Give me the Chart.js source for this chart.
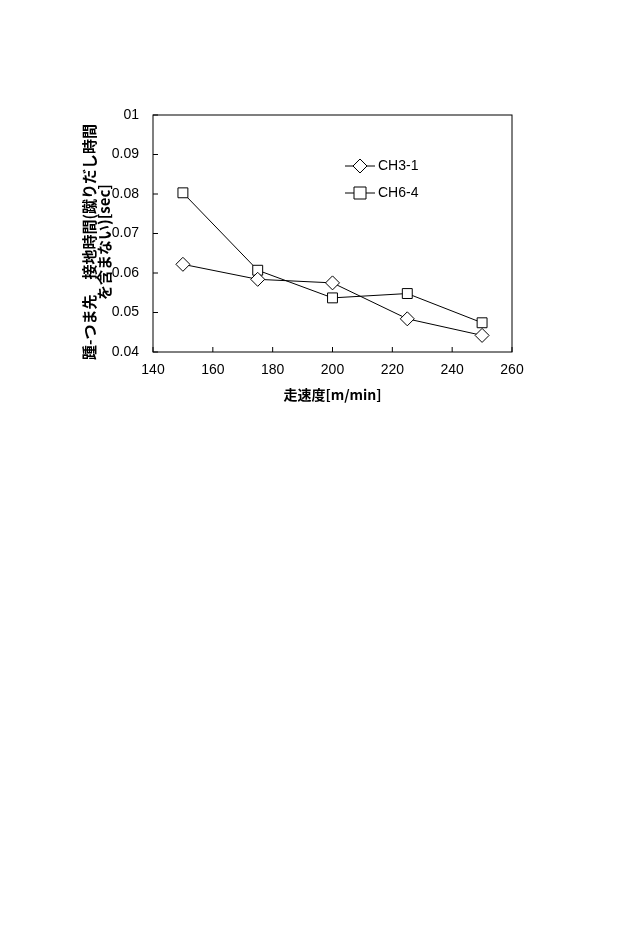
<!DOCTYPE html>
<html><head><meta charset="utf-8">
<script src="https://cdn.jsdelivr.net/npm/chart.js@4/dist/chart.umd.min.js"></script>
<style>html,body{margin:0;padding:0;background:#fff}#w{position:absolute;left:0;top:0;width:640px;height:949px}</style>
</head><body><div id="w"><canvas id="c"></canvas></div>
<script>
const speeds = [150, 175, 200, 225, 250];
const ch31 = [0.0622, 0.0584, 0.0575, 0.0484, 0.0442];
const ch64 = [0.0803, 0.0607, 0.0537, 0.0548, 0.0474];
const seriesNames = ['CH3-1', 'CH6-4'];
const yTitleLines = ['踵-つま先　接地時間(蹴りだし時間', 'を含まない)[sec]'];
const xTitle = '走速度[m/min]';
const F = '"Liberation Sans", Arial, sans-serif';
const JF = '"Noto Sans CJK JP", sans-serif';

const deco = {
  id: 'deco',
  afterDraw(ch) {
    const c = ch.ctx, a = ch.chartArea, xs = ch.scales.x, ys = ch.scales.y;
    c.save();
    c.strokeStyle = '#000'; c.lineWidth = 1;
    c.strokeRect(a.left, a.top, a.right - a.left, a.bottom - a.top);
    c.beginPath();
    xs.ticks.forEach(t => { const p = xs.getPixelForValue(t.value); c.moveTo(p, a.bottom); c.lineTo(p, a.bottom - 5); });
    ys.ticks.forEach(t => { const p = ys.getPixelForValue(t.value); c.moveTo(a.left, p); c.lineTo(a.left + 5, p); });
    c.stroke();
    const lx = 345, items = [[166, 'rectRot', 0], [193, 'rect', 1]];
    items.forEach(([y, st, i]) => {
      c.beginPath(); c.moveTo(lx, y); c.lineTo(lx + 30, y); c.stroke();
      c.fillStyle = '#fff'; c.beginPath();
      if (st === 'rect') { c.rect(lx + 9, y - 6, 12, 12); }
      else { c.moveTo(lx + 15, y - 7); c.lineTo(lx + 22, y); c.lineTo(lx + 15, y + 7); c.lineTo(lx + 8, y); c.closePath(); }
      c.fill(); c.stroke();
      c.fillStyle = '#000'; c.font = '14px ' + F; c.textBaseline = 'middle'; c.textAlign = 'left';
      c.fillText(seriesNames[i], lx + 33, y);
    });
    c.translate(89, 242);
    c.rotate(-Math.PI / 2);
    c.font = 'bold 15px ' + JF; c.textAlign = 'center'; c.textBaseline = 'middle';
    c.fillText(yTitleLines[0], 0, 0);
    c.fillText(yTitleLines[1], 0, 15);
    c.restore();
  }
};

new Chart(document.getElementById('c'), {
  type: 'line',
  data: { datasets: [
    { label: seriesNames[0], data: speeds.map((x, i) => ({x, y: ch31[i]})), borderColor: '#000', borderWidth: 1,
      pointStyle: 'rectRot', pointRadius: 7, pointBackgroundColor: '#fff', pointBorderColor: '#000', pointBorderWidth: 1 },
    { label: seriesNames[1], data: speeds.map((x, i) => ({x, y: ch64[i]})), borderColor: '#000', borderWidth: 1,
      pointStyle: 'rect', pointRadius: 7, pointBackgroundColor: '#fff', pointBorderColor: '#000', pointBorderWidth: 1 }
  ]},
  options: {
    responsive: true, maintainAspectRatio: false, animation: false,
    layout: { padding: { left: 83, right: 128, top: 115, bottom: 542 } },
    plugins: { legend: { display: false }, tooltip: { enabled: false } },
    scales: {
      x: { type: 'linear', min: 140, max: 260, afterFit(s) { s.height = 55; },
        ticks: { stepSize: 20, color: '#000', font: { family: F, size: 14 }, padding: 2 },
        grid: { display: false }, border: { display: false },
        title: { display: true, text: xTitle, color: '#000', font: { family: JF, size: 14, weight: 'bold' }, padding: { top: 10 } } },
      y: { min: 0.04, max: 0.1, afterFit(s) { s.width = 70; },
        ticks: { stepSize: 0.01, color: '#000', font: { family: F, size: 14 }, padding: 6,
          callback: v => Math.abs(v - 0.1) < 1e-9 ? '01' : v.toFixed(2) },
        grid: { display: false }, border: { display: false } }
    }
  },
  plugins: [deco]
});
</script></body></html>
